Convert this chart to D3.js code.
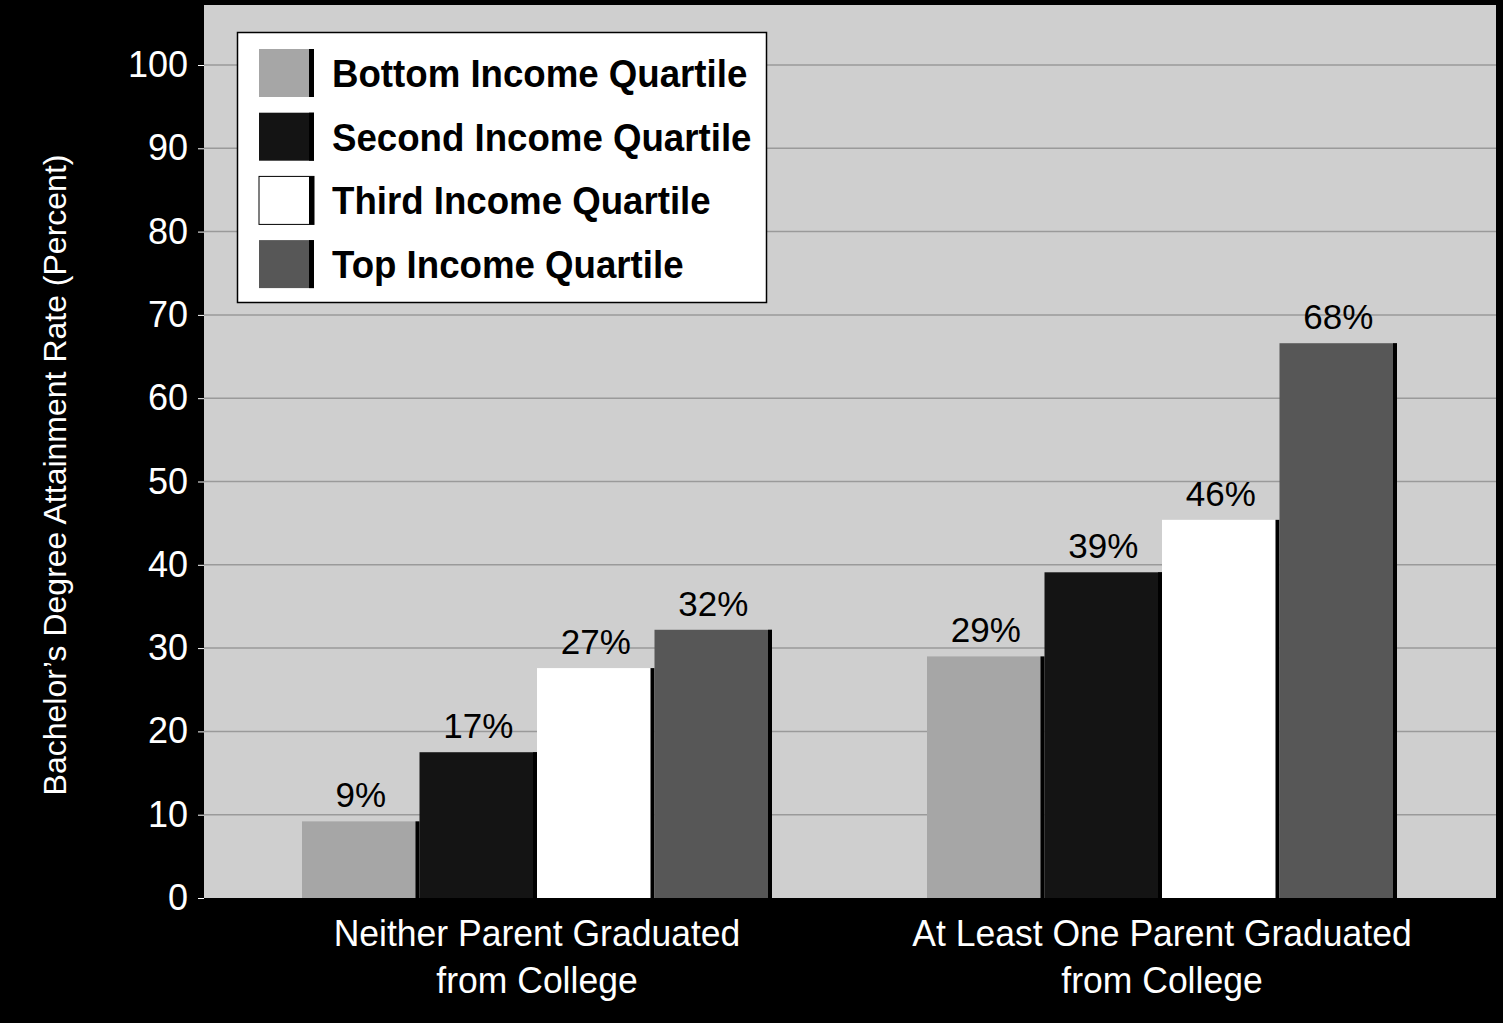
<!DOCTYPE html>
<html><head><meta charset="utf-8">
<script src="https://cdn.jsdelivr.net/npm/d3@7"></script>
<style>body{margin:0;background:#000;} svg{display:block;}</style>
</head><body>
<svg id="chart" width="1503" height="1023"></svg>
<script>
var groups = ["Neither Parent Graduated|from College", "At Least One Parent Graduated|from College"];
var series = ["Bottom Income Quartile", "Second Income Quartile", "Third Income Quartile", "Top Income Quartile"];
var colors = ["#a6a6a6", "#141414", "#ffffff", "#575757"];
var values = [[9.2, 17.5, 27.6, 32.2], [29.0, 39.1, 45.4, 66.6]];
var labels = [["9%", "17%", "27%", "32%"], ["29%", "39%", "46%", "68%"]];
var yticks = [0, 10, 20, 30, 40, 50, 60, 70, 80, 90, 100];

var svg = d3.select("#chart");
var plotL = 204, plotR = 1496, plotT = 5, plotB = 898;

var y = d3.scaleLinear().domain([0, 100]).range([plotB, 65]);
var gx = d3.scalePoint().domain(groups).range([537, 1162]);
var bx = d3.scaleBand().domain(series).range([-235, 235]);

svg.append("rect").attr("width", 1503).attr("height", 1023).attr("fill", "#000");
svg.append("rect").attr("x", plotL).attr("y", plotT).attr("width", plotR - plotL).attr("height", plotB - plotT).attr("fill", "#cfcfcf");

// grid
svg.append("g").selectAll("line").data(yticks.slice(1)).enter().append("line")
    .attr("x1", plotL).attr("x2", plotR)
    .attr("y1", function(d) { return y(d); }).attr("y2", function(d) { return y(d); })
    .attr("stroke", "#9a9a9a").attr("stroke-width", 1.5);

// y axis
var ax = svg.append("g").attr("transform", "translate(" + plotL + ",0)")
    .call(d3.axisLeft(y).tickValues(yticks).tickSize(6).tickPadding(10));
ax.select(".domain").remove();
ax.selectAll("line").attr("stroke", "#fff");
ax.selectAll("text").attr("fill", "#fff").style("font", "36px 'Liberation Sans', Arial, sans-serif");

svg.append("text").attr("transform", "translate(66,475) rotate(-90)")
    .attr("text-anchor", "middle").attr("fill", "#fff")
    .style("font", "32px 'Liberation Sans', Arial, sans-serif")
    .text("Bachelor\u2019s Degree Attainment Rate (Percent)");

// bars
groups.forEach(function(g, gi) {
    var gg = svg.append("g").attr("transform", "translate(" + gx(g) + ",0)");
    var bars = gg.selectAll("g.bar").data(values[gi]).enter().append("g");
    bars.append("rect")
        .attr("x", function(d, i) { return bx(series[i]); })
        .attr("y", function(d) { return y(d); })
        .attr("width", bx.bandwidth())
        .attr("height", function(d) { return y(0) - y(d); })
        .attr("fill", function(d, i) { return colors[i]; });
    bars.append("rect")
        .attr("x", function(d, i) { return bx(series[i]) + bx.bandwidth() - 4; })
        .attr("y", function(d) { return y(d); })
        .attr("width", 4)
        .attr("height", function(d) { return y(0) - y(d); })
        .attr("fill", "#000");
    bars.append("text")
        .attr("x", function(d, i) { return bx(series[i]) + bx.bandwidth() / 2; })
        .attr("y", function(d) { return y(d) - 14; })
        .attr("text-anchor", "middle").attr("fill", "#000")
        .style("font", "35px 'Liberation Sans', Arial, sans-serif")
        .text(function(d, i) { return labels[gi][i]; });
    var t = svg.append("text").attr("text-anchor", "middle").attr("fill", "#fff")
        .attr("transform", "translate(" + gx(g) + ",0) scale(0.96,1)")
        .style("font", "37px 'Liberation Sans', Arial, sans-serif");
    g.split("|").forEach(function(line, li) {
        t.append("tspan").attr("x", 0).attr("y", 946 + li * 47).text(line);
    });
});

// legend
var lg = svg.append("g");
lg.append("rect").attr("x", 237.5).attr("y", 32.5).attr("width", 529).attr("height", 270)
    .attr("fill", "#fff").attr("stroke", "#000").attr("stroke-width", 1.5);
var rows = lg.selectAll("g.row").data(series).enter().append("g")
    .attr("transform", function(d, i) { return "translate(0," + (73 + i * 63.7) + ")"; });
rows.append("rect").attr("x", 259).attr("y", -24).attr("width", 55).attr("height", 48)
    .attr("fill", function(d, i) { return colors[i]; })
    .attr("stroke", function(d, i) { return i == 2 ? "#000" : "none"; });
rows.append("rect").attr("x", 309).attr("y", -24).attr("width", 5).attr("height", 48).attr("fill", "#000");
rows.append("text").attr("transform", "translate(332,14) scale(0.94,1)").attr("fill", "#000")
    .style("font", "bold 39px 'Liberation Sans', sans-serif")
    .text(function(d) { return d; });
</script>
</body></html>
